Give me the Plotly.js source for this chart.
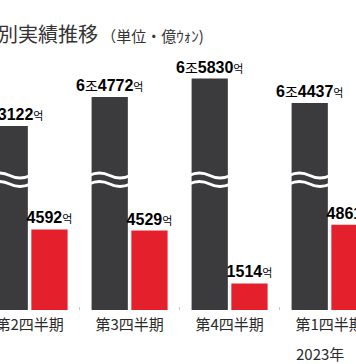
<!DOCTYPE html>
<html>
<head>
<meta charset="utf-8">
<script src="https://cdn.plot.ly/plotly-3.0.1.min.js"></script>
<style>
  html, body { margin: 0; padding: 0; background: #fff; }
  #chart { width: 356px; height: 364px; }
</style>
</head>
<body>
<div id="chart"></div>
<script>
// ---- data (unit: 億ウォン) ----
const quarters = ['2022Q2', '2022Q3', '2022Q4', '2023Q1'];
const quarterLabels = ['第2四半期', '第3四半期', '第4四半期', '第1四半期'];
const yearNote = '2023年';
const revenue = [63122, 64772, 65830, 64437];        // 売上 (dark bars, broken axis)
const operatingProfit = [4592, 4529, 1514, 4861];   // 営業利益 (red bars)
const titleMain = '別実績推移';
const titleUnit = '（単位・億ｳｫﾝ)';

// broken-axis offset for the revenue bars
const BREAK_OFFSET = 52640;

const DARK = '#3b3b3d';
const RED = '#e3202b';
const BARGAP = 0.205;
const GROUPGAP = 0.088;

function fmtRevenue(v) {
  const jo = Math.floor(v / 10000);
  const rest = v % 10000;
  return '<b>' + jo + '</b><span style="font-size:14px">조</span><b>' + rest +
         '</b><span style="font-size:11px">억</span>';
}
function fmtProfit(v) {
  return '<b>' + v + '</b><span style="font-size:11px">억</span>';
}

const labelFont = { family: 'Liberation Sans, Arial, Noto Sans CJK KR, sans-serif', size: 16, color: '#000' };

const traceRevenue = {
  type: 'bar',
  x: quarters,
  y: revenue.map(v => v - BREAK_OFFSET),
  marker: { color: DARK, line: { width: 0 } },
  text: revenue.map(fmtRevenue),
  textposition: 'outside',
  textfont: labelFont,
  constraintext: 'none',
  cliponaxis: false,
  hoverinfo: 'skip'
};
const traceProfit = {
  type: 'bar',
  x: quarters,
  y: operatingProfit,
  marker: { color: RED, line: { width: 0 } },
  text: operatingProfit.map(fmtProfit),
  textposition: 'outside',
  textfont: labelFont,
  constraintext: 'none',
  cliponaxis: false,
  hoverinfo: 'skip'
};

// wavy "break" marks across the dark bars
const slot = (1 - BARGAP) / 2;
const barW = slot * (1 - GROUPGAP);
const PX = 0.01755; // approx px per data unit, used for wave amplitude only
const waveYs = [(310 - 175.5) / PX, (310 - 184) / PX];
const amp = 2.6 / PX;
const shapes = [];
quarters.forEach((q, i) => {
  const cx = i - slot / 2;
  const w = barW + 0.05;
  const x0 = cx - w / 2;
  waveYs.forEach(y => {
    shapes.push({
      type: 'path',
      xref: 'x', yref: 'y',
      layer: 'above',
      path: `M ${x0},${y} Q ${x0 + w / 4},${y + 2 * amp} ${x0 + w / 2},${y} Q ${x0 + 3 * w / 4},${y - 2 * amp} ${x0 + w},${y}`,
      line: { color: '#ffffff', width: 3 }
    });
  });
});

const layout = {
  width: 356, height: 364,
  margin: { l: 0, r: 0, t: 0, b: 54 },
  paper_bgcolor: '#fff', plot_bgcolor: '#fff',
  showlegend: false,
  barmode: 'group',
  bargap: BARGAP,
  bargroupgap: GROUPGAP,
  xaxis: {
    type: 'category',
    range: [-0.296, 3.264],
    tickmode: 'array',
    tickvals: quarters,
    ticktext: quarterLabels,
    tickson: 'boundaries',
    ticks: 'inside',
    ticklen: 3,
    tickcolor: '#c8c8c8',
    tickwidth: 1,
    showline: false,
    showgrid: false,
    zeroline: false,
    ticklabelstandoff: 4,
    tickfont: { family: 'Noto Sans CJK JP, sans-serif', size: 15, color: '#2a2a2a' },
    fixedrange: true
  },
  yaxis: {
    range: [0, 310 / PX],
    visible: false,
    fixedrange: true
  },
  shapes: shapes,
  annotations: [
    {
      xref: 'paper', yref: 'paper',
      x: -4 / 356, y: 1 - 34 / 310,
      xanchor: 'left', yanchor: 'middle',
      showarrow: false,
      text: titleMain + '<span style="font-size:15px"> ' + titleUnit + '</span>',
      font: { family: 'Noto Sans CJK JP, sans-serif', size: 20, color: '#333' }
    },
    {
      xref: 'x', yref: 'paper',
      x: quarters[3], xshift: -36,
      y: 1 - 353 / 310,
      xanchor: 'left', yanchor: 'middle',
      showarrow: false,
      text: yearNote,
      font: { family: 'Noto Sans CJK JP, sans-serif', size: 15, color: '#2a2a2a' }
    }
  ]
};

Plotly.newPlot('chart', [traceRevenue, traceProfit], layout, { staticPlot: true, displayModeBar: false });
</script>
</body>
</html>
